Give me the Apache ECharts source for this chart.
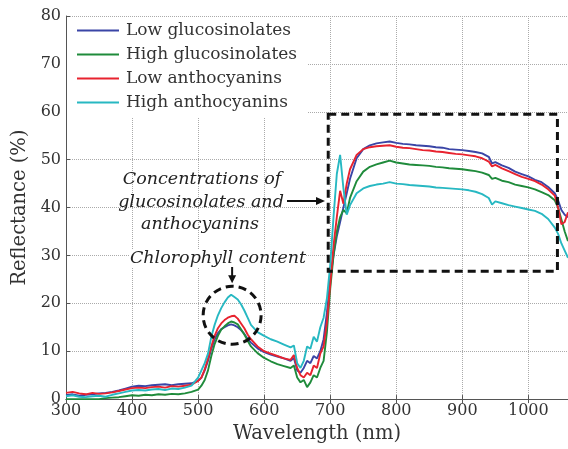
<!DOCTYPE html>
<html>
<head>
<meta charset="utf-8">
<script src="https://cdn.jsdelivr.net/npm/echarts@6/dist/echarts.min.js"></script>
<style>html,body{margin:0;padding:0;background:#fff}#c{width:568px;height:449px}</style>
</head>
<body>
<div id="c"></div>
<script>
var wavelengths = [300,310,320,330,340,350,360,370,380,390,400,410,420,430,440,450,460,470,480,490,500,
505,510,515,520,525,530,535,540,545,550,555,560,565,570,575,580,
590,600,610,620,630,640,
645,650,655,660,665,670,675,680,685,690,695,700,705,710,715,720,725,730,
740,750,760,770,780,790,800,810,820,830,840,850,860,870,880,890,900,910,920,930,940,
945,
950,960,970,980,990,1000,1010,1020,1030,1040,
1045,1050,1055,1060];

var lowGluc = [0.8,1.0,0.7,0.9,1.0,1.2,1.3,1.5,1.8,2.2,2.6,2.8,2.7,2.9,3.0,3.1,2.9,3.1,3.2,3.3,3.8,
4.5,6.0,8.0,10.5,12.5,13.8,14.6,15.0,15.4,15.6,15.4,15.0,14.4,13.6,12.6,11.8,
10.6,9.8,9.3,8.9,8.5,8.0,
8.6,6.0,5.5,6.5,8.0,7.5,9.0,8.5,10.0,12.5,18.0,25.0,30.0,34.0,37.0,40.0,43.0,46.0,
50.3,52.2,53.0,53.4,53.6,53.8,53.5,53.3,53.2,53.0,52.9,52.8,52.6,52.5,52.2,52.1,52.0,51.8,51.6,51.3,50.6,
49.2,
49.5,48.8,48.3,47.5,47.0,46.5,45.8,45.3,44.3,43.0,
41.5,39.5,38.5,38.0];

var highGluc = [0.0,0.0,0.0,0.0,0.0,0.0,0.2,0.3,0.4,0.6,0.8,0.7,0.9,0.8,1.0,0.9,1.1,1.0,1.2,1.5,2.0,
2.8,4.0,6.0,9.0,11.5,13.2,14.5,15.2,15.8,16.2,16.0,15.6,14.6,13.5,12.2,11.0,
9.6,8.6,7.9,7.3,6.9,6.5,
7.0,4.5,3.5,4.0,2.5,3.5,5.0,4.5,6.5,8.0,14.0,23.0,30.0,35.0,38.0,39.5,38.8,42.0,
45.5,47.5,48.5,49.0,49.4,49.8,49.4,49.2,49.0,48.9,48.8,48.7,48.5,48.4,48.2,48.1,48.0,47.8,47.6,47.3,46.8,
46.0,
46.2,45.6,45.3,44.8,44.5,44.2,43.8,43.2,42.6,41.5,
40.0,37.5,35.0,33.0];

var lowAntho = [1.3,1.5,1.2,1.0,1.3,1.1,1.2,1.4,1.7,2.0,2.3,2.4,2.3,2.5,2.6,2.4,2.7,2.6,2.8,3.0,3.8,
4.5,6.2,8.5,11.0,13.2,14.8,15.8,16.5,17.0,17.3,17.4,16.8,15.8,14.8,13.5,12.5,
11.0,10.0,9.5,9.0,8.5,8.2,
9.2,6.5,5.0,4.5,5.5,5.0,7.0,6.5,9.5,11.0,16.0,24.0,32.0,38.0,43.5,40.8,45.0,48.0,
51.0,52.2,52.6,52.8,52.9,53.0,52.7,52.5,52.4,52.2,52.0,51.9,51.7,51.6,51.4,51.2,51.1,50.9,50.7,50.3,49.6,
48.6,
48.9,48.2,47.6,47.0,46.4,46.0,45.5,44.8,43.8,42.5,
40.0,36.5,37.0,39.0];

var highAntho = [0.6,0.8,0.5,0.4,0.6,0.7,0.5,0.9,1.2,1.5,1.8,1.9,1.8,2.0,2.1,1.9,2.2,2.1,2.4,2.8,4.5,
6.0,7.5,9.5,13.0,15.5,17.5,19.0,20.2,21.2,21.8,21.3,20.8,19.8,18.5,17.0,15.5,
14.0,13.2,12.5,12.0,11.4,10.8,
11.2,7.5,6.5,8.0,11.0,10.5,13.0,12.0,15.0,17.0,21.0,28.0,38.0,47.0,51.0,44.0,38.5,40.5,
43.0,44.0,44.5,44.8,45.0,45.3,45.0,44.9,44.7,44.6,44.5,44.4,44.2,44.1,44.0,43.9,43.8,43.6,43.3,42.8,42.0,
40.6,
41.3,40.9,40.5,40.2,39.9,39.6,39.3,38.7,37.6,35.8,
34.5,32.5,31.0,29.5];

var seriesNames = ['Low glucosinolates','High glucosinolates','Low anthocyanins','High anthocyanins'];
var seriesValues = [lowGluc, highGluc, lowAntho, highAntho];
var seriesColors = ['#3a45a6','#1f8b3b','#e8232f','#27b8c2'];
var xTicks = {min:300, max:1060, interval:100};
var yTicks = {min:0, max:80, interval:10};

var FONT = 'DejaVu Serif';
var chart = echarts.init(document.getElementById('c'), null, {renderer:'canvas'});

function pairs(vals){ return wavelengths.map(function(w,i){ return [w, vals[i]]; }); }

var series = seriesNames.map(function(n,i){
  return {
    name:n, type:'line', data:pairs(seriesValues[i]), showSymbol:false, symbol:'none',
    lineStyle:{color:seriesColors[i], width:1.9}, itemStyle:{color:seriesColors[i]},
    animation:false, z:2+i
  };
});

var gridLine = {show:true, lineStyle:{type:'dotted', color:'#aaa', width:1}};
chart.setOption({
  animation:false,
  grid:{left:66, top:16, right:0, bottom:44},
  legend:{
    data:seriesNames, orient:'vertical', left:67, top:17,
    icon:'rect', itemWidth:42, itemHeight:2, itemGap:7,
    backgroundColor:'#fff', padding:[5,10,6,10],
    textStyle:{fontFamily:FONT, fontSize:17, color:'#333', padding:[0,0,0,2]}
  },
  xAxis:[{
    type:'value', min:xTicks.min, max:xTicks.max, interval:xTicks.interval,
    name:'Wavelength (nm)', nameLocation:'middle', nameGap:21,
    nameTextStyle:{fontFamily:FONT, fontSize:19.5, color:'#333'},
    axisLine:{show:true, onZero:false, lineStyle:{color:'#555', width:1}},
    axisTick:{show:true, inside:true, length:4, lineStyle:{color:'#555'}},
    axisLabel:{fontFamily:FONT, fontSize:16, color:'#333', margin:4, showMaxLabel:false,
      formatter:function(v){ return String(v); }},
    splitLine:gridLine
  },{
    type:'value', position:'top', min:xTicks.min, max:xTicks.max, interval:xTicks.interval,
    axisLine:{show:true, lineStyle:{color:'#555', width:1}},
    axisTick:{show:true, inside:true, length:4, lineStyle:{color:'#555'}},
    axisLabel:{show:false}, splitLine:{show:false}
  }],
  yAxis:[{
    type:'value', min:yTicks.min, max:yTicks.max, interval:yTicks.interval,
    name:'Reflectance (%)', nameLocation:'middle', nameGap:36, nameRotate:90,
    nameTextStyle:{fontFamily:FONT, fontSize:19.5, color:'#333'},
    axisLine:{show:true, onZero:false, lineStyle:{color:'#555', width:1}},
    axisTick:{show:true, inside:true, length:4, lineStyle:{color:'#555'}},
    axisLabel:{fontFamily:FONT, fontSize:16, color:'#333', margin:5},
    splitLine:gridLine
  }],
  series:series
});

// annotations
var p1 = chart.convertToPixel({gridIndex:0}, [697, 59.5]);
var p2 = chart.convertToPixel({gridIndex:0}, [1044, 26.7]);
var cc = chart.convertToPixel({gridIndex:0}, [551.5, 17.5]);
var dash = {stroke:'#111', lineWidth:3, lineDash:[8,5], fill:null};
var italic = {fontFamily:FONT, fontSize:17.5, fontStyle:'italic', fill:'#222', align:'center', verticalAlign:'middle'};
chart.setOption({
  graphic:[
    {type:'rect', shape:{x:p1[0], y:p1[1], width:p2[0]-p1[0], height:p2[1]-p1[1]}, style:dash, z:100},
    {type:'circle', shape:{cx:cc[0], cy:cc[1], r:29}, style:dash, z:100},
    {type:'line', shape:{x1:cc[0], y1:cc[1]-50, x2:cc[0], y2:cc[1]-38}, style:{stroke:'#111', lineWidth:2}, z:100},
    {type:'polygon', shape:{points:[[cc[0]-4, cc[1]-40],[cc[0]+4, cc[1]-40],[cc[0], cc[1]-32]]}, style:{fill:'#111'}, z:100},
    {type:'line', shape:{x1:287, y1:201, x2:318, y2:201}, style:{stroke:'#111', lineWidth:2}, z:100},
    {type:'polygon', shape:{points:[[316,197],[316,205],[325,201]]}, style:{fill:'#111'}, z:100},
    {type:'text', x:218, y:258, style:Object.assign({text:'Chlorophyll content', backgroundColor:'#fff'}, italic), z:100},
    {type:'text', x:202, y:179, style:Object.assign({text:'Concentrations of'}, italic), z:100},
    {type:'text', x:201, y:202, style:Object.assign({text:'glucosinolates and'}, italic), z:100},
    {type:'text', x:200, y:224, style:Object.assign({text:'anthocyanins'}, italic), z:100}
  ]
});
</script>
</body>
</html>
